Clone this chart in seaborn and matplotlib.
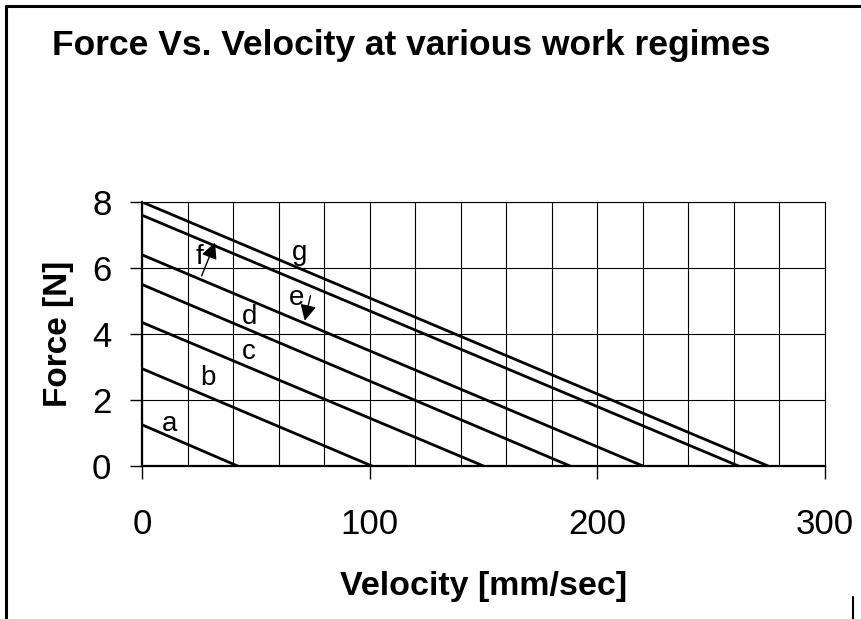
import matplotlib
matplotlib.use("Agg")
import matplotlib.pyplot as plt
import seaborn as sns
import pandas as pd
import numpy as np
from matplotlib.lines import Line2D

# Data: each regime is a straight line from (0, F0) to (V0, 0)
regimes = ["a", "b", "c", "d", "e", "f", "g"]
force_at_zero = [1.25, 2.95, 4.35, 5.5, 6.4, 7.6, 8.0]      # N
velocity_at_zero = [42, 101, 150, 188, 220, 262, 275]       # mm/sec
x_ticks = [0, 100, 200, 300]
y_ticks = [0, 2, 4, 6, 8]

rows = []
for r, f0, v0 in zip(regimes, force_at_zero, velocity_at_zero):
    rows.append({"regime": r, "velocity": 0, "force": f0})
    rows.append({"regime": r, "velocity": v0, "force": 0})
df = pd.DataFrame(rows)

sns.set_theme(style="white")
plt.rcParams["font.family"] = ["Liberation Sans", "DejaVu Sans"]
plt.rcParams["text.color"] = "black"
plt.rcParams["axes.labelcolor"] = "black"
plt.rcParams["xtick.color"] = "black"
plt.rcParams["ytick.color"] = "black"

fig = plt.figure(figsize=(8.62, 6.19), dpi=100)
ax = fig.add_axes([0.1647, 0.2472, 0.9571 - 0.1647, 0.6737 - 0.2472])

sns.lineplot(data=df, x="velocity", y="force", hue="regime",
             palette=["black"] * len(regimes), linewidth=2.0,
             legend=False, ax=ax, sort=False, estimator=None)

ax.set_xlim(0, 300)
ax.set_ylim(0, 8)
ax.set_xticks(np.arange(0, 301, 20), minor=True)
ax.set_xticks(x_ticks)
ax.set_yticks(y_ticks)
ax.set_xticklabels([str(t) for t in x_ticks], fontsize=25)
ax.set_yticklabels([str(t) for t in y_ticks], fontsize=25)
ax.grid(True, which="both", axis="x", color="black", linewidth=0.8)
ax.grid(True, which="major", axis="y", color="black", linewidth=0.8)
ax.set_axisbelow(True)
ax.tick_params(axis="both", which="major", direction="out", length=9,
               width=1.0, color="black", left=True, bottom=True)
ax.tick_params(axis="x", which="major", pad=21.5)
ax.tick_params(axis="y", which="major", pad=13)
ax.tick_params(axis="x", which="minor", length=0)
for s in ["top", "right"]:
    ax.spines[s].set_visible(True)
    ax.spines[s].set_color("black")
    ax.spines[s].set_linewidth(0.8)
for s in ["left", "bottom"]:
    ax.spines[s].set_color("black")
    ax.spines[s].set_linewidth(1.6)

ax.set_xlabel("Velocity [mm/sec]", fontsize=24.5, fontweight="bold", labelpad=21.5)
ax.set_ylabel("Force [N]", fontsize=24, fontweight="bold", labelpad=13)

fig.text(0.477, 0.927, "Force Vs. Velocity at various work regimes",
         ha="center", va="center", fontsize=25.5, fontweight="bold")

# Curve labels
label_pos = {"a": (12.0, 1.27), "b": (29.1, 2.66), "c": (47.0, 3.46),
             "d": (47.4, 4.52), "e": (67.9, 5.08), "f": (25.2, 6.34),
             "g": (69.0, 6.44)}
for r in regimes:
    x, y = label_pos[r]
    ax.text(x, y, r, ha="center", va="center", fontsize=20)

ax.annotate("", xy=(71.5, 4.40), xytext=(74.0, 5.16),
            arrowprops=dict(arrowstyle="-|>", color="black", lw=1.0,
                            mutation_scale=24, shrinkA=0, shrinkB=0))
ax.annotate("", xy=(32.1, 6.77), xytext=(26.2, 5.76),
            arrowprops=dict(arrowstyle="-|>", color="black", lw=1.0,
                            mutation_scale=24, shrinkA=0, shrinkB=0))

# Chart area border (left and top, short piece at bottom right)
fig.add_artist(Line2D([0.0065, 0.0065], [0.0, 0.99], transform=fig.transFigure,
                      color="black", linewidth=2.2))
fig.add_artist(Line2D([0.0065, 1.0], [0.99, 0.99], transform=fig.transFigure,
                      color="black", linewidth=2.2))
fig.add_artist(Line2D([0.99, 0.99], [0.0, 0.035], transform=fig.transFigure,
                      color="black", linewidth=1.5))

fig.savefig("out.png", dpi=100)
